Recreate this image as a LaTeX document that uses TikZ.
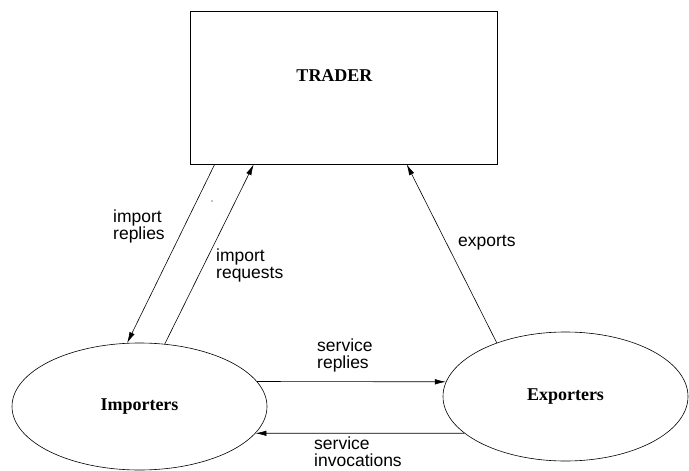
\documentclass[tikz,border=0pt]{standalone}
\usepackage{fontspec}
\setmainfont{Liberation Serif}
\setsansfont{Liberation Sans}
\usetikzlibrary{arrows.meta,shapes.geometric}
\tikzset{
	entity/.style={draw, line width=0.6pt, inner sep=0pt, font=\fontsize{18}{20}\selectfont\bfseries},
	flow/.style={line width=0.6pt, -{Latex[length=11pt,width=5.5pt]}},
	flowlabel/.style={anchor=west, align=left, inner sep=0pt, font=\sffamily\fontsize{17.5}{17}\selectfont}
}

\begin{document}
\begin{tikzpicture}[x=1pt,y=-1pt]
	\useasboundingbox (0,0) rectangle (689,471);
	% Trader box
	\node[entity, rectangle, minimum width=307pt, minimum height=153pt] (trader) at (343.5,87.5) {};
	\node[entity, draw=none] (tradername) at (334.5,76) {TRADER};
	% Importers and exporters
	\node[entity, ellipse, minimum width=255pt, minimum height=127pt] (imp) at (139.5,406.5) {Importers};
	\node[entity, ellipse, minimum width=245pt, minimum height=129pt] (exp) at (565.5,396.5) {Exporters};
	% Flows
	\draw[flow] ([xshift=25pt]trader.south west) -- (imp.101);
	\draw[flow] (imp.68) -- ([xshift=64pt]trader.south west);
	\draw[flow] (exp.142) -- ([xshift=217pt]trader.south west);
	\draw[flow] (imp.12) -- (exp.173);
	\draw[flow] (exp.200) -- (imp.347);
	% Labels
	\node[flowlabel] (impreplies) at (113,226) {import\\replies};
	\node[flowlabel] (imprequests) at (216,265) {import\\requests};
	\node[flowlabel] (exports) at (458,243) {exports};
	\node[flowlabel] (servreplies) at (317,355) {service\\replies};
	\node[flowlabel] (servinvoc) at (314,452) {service\\invocations};
	\fill (212,201) circle (0.6);
\end{tikzpicture}
\end{document}
